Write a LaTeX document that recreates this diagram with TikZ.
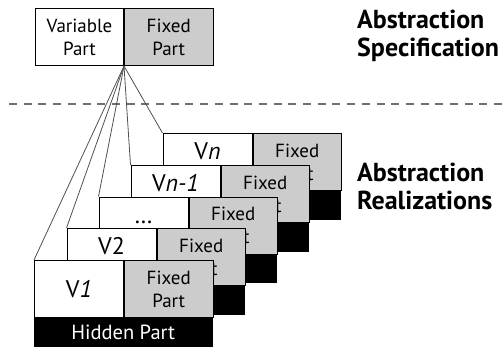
\documentclass[tikz,border=0pt]{standalone}
\usepackage{fontspec}
\setmainfont{PT Sans}
\usetikzlibrary{calc}
\definecolor{fixgray}{HTML}{CCCCCC}
\definecolor{linegray}{HTML}{505050}
\definecolor{dashgray}{HTML}{707070}
\tikzset{
  vpart/.style={draw=black, line width=1pt, fill=white, minimum width=89pt, minimum height=57pt, inner sep=0pt, anchor=north west},
  fpart/.style={draw=black, line width=1pt, fill=fixgray, minimum width=88.5pt, minimum height=57pt, inner sep=0pt, anchor=north west},
  hpart/.style={draw=black, line width=1pt, fill=black, minimum width=177.5pt, minimum height=27.5pt, inner sep=0pt, anchor=north west},
  lbl/.style={font=\fontsize{19}{23}\selectfont, align=center, inner sep=0pt},
  vlbl/.style={font=\fontsize{24}{28}\selectfont, inner sep=0pt},
  hlbl/.style={font=\fontsize{20.5}{23}\selectfont, text=white, inner sep=0pt},
  biglbl/.style={font=\fontsize{26}{28}\selectfont\bfseries, align=left, anchor=west, inner sep=0pt},
  fan/.style={draw=linegray, line width=0.8pt},
  sep/.style={draw=dashgray, line width=2.4pt, dash pattern=on 8pt off 6.7pt}
}
\begin{document}
\begin{tikzpicture}[x=1pt,y=-1pt]
\useasboundingbox (0,0) rectangle (503,346);
% specification box
\node[vpart, minimum width=88pt] (sv) at (35,8) {};
\node[fpart] (sf) at (sv.north east) {};
\node[lbl] (svt) at (sv.center) {Variable\\Part};
\node[lbl] (sft) at (sf.center) {Fixed\\Part};
% separator
\coordinate (dl) at (9,104);
\coordinate (dr) at (503,104);
\draw[sep] (dl) -- (dr);
% labels
\node[biglbl] (spec) at (357,36) {Abstraction\\Specification};
\node[biglbl] (real) at (357,186) {Abstraction\\Realizations};
% fan anchors
\coordinate (c5) at (162.5,133);
\coordinate (c4) at (130.5,165);
\coordinate (c3) at (98.5,196.5);
\coordinate (c2) at (66.5,228);
\coordinate (c1) at (34,260);
\foreach \c in {c1,c2,c3,c4,c5} \draw[fan] (sv.south east) -- (\c);
% box n
\node[vpart] (v5) at (c5) {};
\node[fpart] (f5) at (v5.north east) {};
\node[hpart] (h5) at (v5.south west) {};
\node[vlbl] (v5t) at ($(v5.north)+(0,18.5)$) {V\textit{n}};
\node[lbl] (f5t) at (f5.center) {Fixed\\Part};
% box n-1
\node[vpart] (v4) at (c4) {};
\node[fpart] (f4) at (v4.north east) {};
\node[hpart] (h4) at (v4.south west) {};
\node[vlbl] (v4t) at ($(v4.north)+(0,18)$) {V\textit{n-1}};
\node[lbl] (f4t) at (f4.center) {Fixed\\Part};
% box ...
\node[vpart] (v3) at (c3) {};
\node[fpart] (f3) at (v3.north east) {};
\node[hpart] (h3) at (v3.south west) {};
\node[vlbl, anchor=base] (v3t) at ($(v3.north)+(0,27)$) {\dots};
\node[lbl] (f3t) at (f3.center) {Fixed\\Part};
% box 2
\node[vpart] (v2) at (c2) {};
\node[fpart] (f2) at (v2.north east) {};
\node[hpart] (h2) at (v2.south west) {};
\node[vlbl] (v2t) at ($(v2.north)+(0,18.5)$) {V2};
\node[lbl] (f2t) at (f2.center) {Fixed\\Part};
% box 1
\node[vpart] (v1) at (c1) {};
\node[fpart] (f1) at (v1.north east) {};
\node[hpart] (h1) at (v1.south west) {};
\node[vlbl] (v1t) at (v1.center) {V\textit{1}};
\node[lbl] (f1t) at (f1.center) {Fixed\\Part};
\node[hlbl] (h1t) at (h1.center) {Hidden Part};
\end{tikzpicture}
\end{document}
